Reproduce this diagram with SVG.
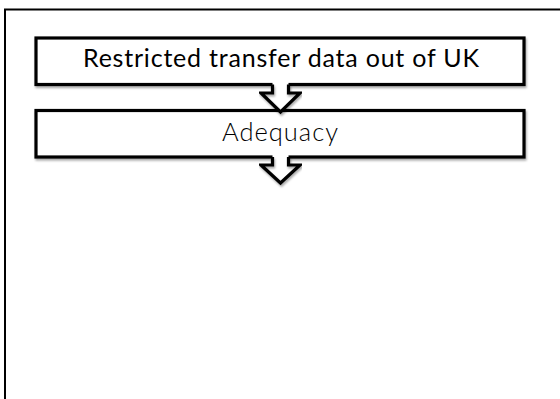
<svg xmlns="http://www.w3.org/2000/svg" width="560" height="399" viewBox="0 0 560 399">
  <defs>
    <filter id="shadow" x="-5%" y="-20%" width="110%" height="150%">
      <feDropShadow dx="1" dy="2" stdDeviation="1" flood-color="#000" flood-opacity="0.35"/>
    </filter>
    <style>
      .frame { fill: none; stroke: #000; stroke-width: 2; }
      .box { fill: #fff; stroke: #000; stroke-width: 3.2; filter: url(#shadow); }
      .arrow-fill { fill: #fff; stroke: none; }
      .arrow-line { fill: none; stroke: #000; stroke-width: 3.2; stroke-linejoin: miter; filter: url(#shadow); }
      .label { font-family: Lato, "Liberation Sans", sans-serif; fill: #000; text-anchor: middle; }
      .strong { font-weight: 400; font-size: 25px; }
      .light { font-weight: 300; font-size: 25.5px; }
    </style>
  </defs>

  <rect width="560" height="399" fill="#fff"/>

  <!-- slide frame, open to the right and bottom -->
  <path class="frame" d="M5,400 V9.5 H561"/>

  <g id="node-restricted-transfer">
    <rect class="box" x="36" y="38" width="488" height="46.5"/>
    <text class="label strong" x="281" y="67" textLength="396">Restricted transfer data out of UK</text>
  </g>

  <g id="node-adequacy">
    <rect class="box" x="36" y="110.5" width="488" height="46.5"/>
    <text class="label light" x="280" y="141" textLength="116">Adequacy</text>
  </g>

  <g id="connectors">
    <!-- block arrow from first box to Adequacy -->
    <g id="arrow-1">
      <polygon class="arrow-fill" points="272.5,82 272.5,93 261,93 280.5,112 300,93 288.5,93 288.5,82"/>
      <polyline class="arrow-line" points="272.5,84.5 272.5,93 261,93 280.5,112 300,93 288.5,93 288.5,84.5"/>
    </g>
    <!-- block arrow leaving Adequacy -->
    <g id="arrow-2">
      <polygon class="arrow-fill" points="272.5,155 272.5,165 261,165 280.5,183 300,165 288.5,165 288.5,155"/>
      <polyline class="arrow-line" points="272.5,157 272.5,165 261,165 280.5,183 300,165 288.5,165 288.5,157"/>
    </g>
  </g>
</svg>
